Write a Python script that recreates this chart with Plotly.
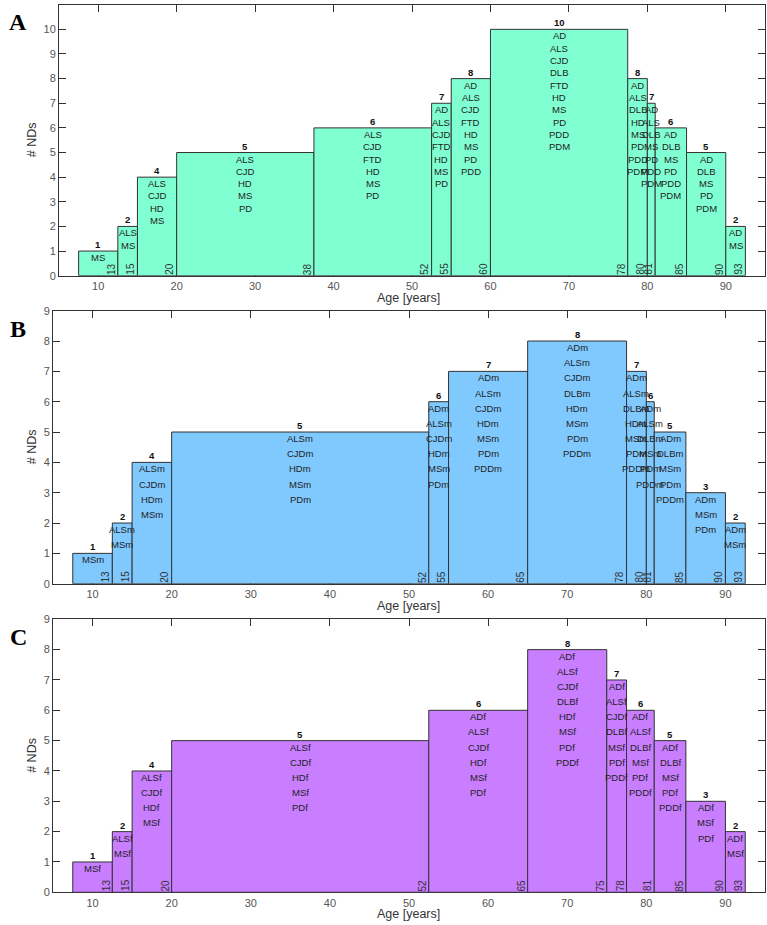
import plotly.graph_objects as go

W, H = 767, 925

age_ticks = [10, 20, 30, 40, 50, 60, 70, 80, 90]

# ---------------- Panel A (all) ----------------
A_edges = [7.5, 12.5, 15, 20, 37.5, 52.5, 55, 60, 77.5, 80, 81, 85, 90, 92.5]
A_edge_labels = ["13", "15", "20", "38", "52", "55", "60", "78", "80", "81", "85", "90", "93"]
A_counts = [1, 2, 4, 5, 6, 7, 8, 10, 8, 7, 6, 5, 2]
A_diseases = [
    ["MS"],
    ["ALS", "MS"],
    ["ALS", "CJD", "HD", "MS"],
    ["ALS", "CJD", "HD", "MS", "PD"],
    ["ALS", "CJD", "FTD", "HD", "MS", "PD"],
    ["AD", "ALS", "CJD", "FTD", "HD", "MS", "PD"],
    ["AD", "ALS", "CJD", "FTD", "HD", "MS", "PD", "PDD"],
    ["AD", "ALS", "CJD", "DLB", "FTD", "HD", "MS", "PD", "PDD", "PDM"],
    ["AD", "ALS", "DLB", "HD", "MS", "PD", "PDD", "PDM"],
    ["AD", "ALS", "DLB", "MS", "PD", "PDD", "PDM"],
    ["AD", "DLB", "MS", "PD", "PDD", "PDM"],
    ["AD", "DLB", "MS", "PD", "PDM"],
    ["AD", "MS"],
]

# ---------------- Panel B (male) ----------------
B_edges = [7.5, 12.5, 15, 20, 52.5, 55, 65, 77.5, 80, 81, 85, 90, 92.5]
B_edge_labels = ["13", "15", "20", "52", "55", "65", "78", "80", "81", "85", "90", "93"]
B_counts = [1, 2, 4, 5, 6, 7, 8, 7, 6, 5, 3, 2]
B_diseases = [
    ["MSm"],
    ["ALSm", "MSm"],
    ["ALSm", "CJDm", "HDm", "MSm"],
    ["ALSm", "CJDm", "HDm", "MSm", "PDm"],
    ["ADm", "ALSm", "CJDm", "HDm", "MSm", "PDm"],
    ["ADm", "ALSm", "CJDm", "HDm", "MSm", "PDm", "PDDm"],
    ["ADm", "ALSm", "CJDm", "DLBm", "HDm", "MSm", "PDm", "PDDm"],
    ["ADm", "ALSm", "DLBm", "HDm", "MSm", "PDm", "PDDm"],
    ["ADm", "ALSm", "DLBm", "MSm", "PDm", "PDDm"],
    ["ADm", "DLBm", "MSm", "PDm", "PDDm"],
    ["ADm", "MSm", "PDm"],
    ["ADm", "MSm"],
]

# ---------------- Panel C (female) ----------------
C_edges = [7.5, 12.5, 15, 20, 52.5, 65, 75, 77.5, 81, 85, 90, 92.5]
C_edge_labels = ["13", "15", "20", "52", "65", "75", "78", "81", "85", "90", "93"]
C_counts = [1, 2, 4, 5, 6, 8, 7, 6, 5, 3, 2]
C_diseases = [
    ["MSf"],
    ["ALSf", "MSf"],
    ["ALSf", "CJDf", "HDf", "MSf"],
    ["ALSf", "CJDf", "HDf", "MSf", "PDf"],
    ["ADf", "ALSf", "CJDf", "HDf", "MSf", "PDf"],
    ["ADf", "ALSf", "CJDf", "DLBf", "HDf", "MSf", "PDf", "PDDf"],
    ["ADf", "ALSf", "CJDf", "DLBf", "MSf", "PDf", "PDDf"],
    ["ADf", "ALSf", "DLBf", "MSf", "PDf", "PDDf"],
    ["ADf", "DLBf", "MSf", "PDf", "PDDf"],
    ["ADf", "MSf", "PDf"],
    ["ADf", "MSf"],
]

panels = [
    dict(letter="A", edges=A_edges, edge_labels=A_edge_labels, counts=A_counts,
         diseases=A_diseases, color="#80ffd2", ymax=11,
         xpx=(59, 765), ypx=(4.7, 275.7), letter_y=22),
    dict(letter="B", edges=B_edges, edge_labels=B_edge_labels, counts=B_counts,
         diseases=B_diseases, color="#80c9ff", ymax=9,
         xpx=(53, 765), ypx=(310.7, 583.7), letter_y=329),
    dict(letter="C", edges=C_edges, edge_labels=C_edge_labels, counts=C_counts,
         diseases=C_diseases, color="#c97dff", ymax=9,
         xpx=(53, 765), ypx=(619.3, 892.3), letter_y=637),
]

FONT = "Arial, Liberation Sans, Helvetica, sans-serif"
fig = go.Figure()
annotations = []
layout_axes = {}

for i, p in enumerate(panels):
    n = i + 1
    xa = "x" if n == 1 else f"x{n}"
    ya = "y" if n == 1 else f"y{n}"
    edges = p["edges"]
    lefts, rights = edges[:-1], edges[1:]
    centers = [(l + r) / 2 for l, r in zip(lefts, rights)]
    widths = [r - l for l, r in zip(lefts, rights)]
    fig.add_trace(go.Bar(
        x=centers, y=p["counts"], width=widths, base=0,
        marker=dict(color=p["color"], line=dict(color="#333333", width=1)),
        xaxis=xa, yaxis=ya, showlegend=False, hoverinfo="skip",
    ))

    x0, x1 = p["xpx"]
    y0, y1 = p["ypx"]
    common = dict(ticks="inside", ticklen=7, tickcolor="#333333", tickwidth=1,
                  showline=True, linecolor="#333333", linewidth=1, mirror="ticks",
                  showgrid=False, zeroline=False, layer="below traces", automargin=False,
                  tickfont=dict(family=FONT, size=11, color="#555555"))
    layout_axes["xaxis" if n == 1 else f"xaxis{n}"] = dict(
        domain=[x0 / W, x1 / W], anchor=ya, range=[5, 95], tickvals=age_ticks, **common)
    layout_axes["yaxis" if n == 1 else f"yaxis{n}"] = dict(
        domain=[1 - y1 / H, 1 - y0 / H], anchor=xa, range=[0, p["ymax"]],
        tickvals=list(range(0, p["ymax"] + 1)), **common)

    # labels in bars
    for c, cnt, names in zip(centers, p["counts"], p["diseases"]):
        annotations.append(dict(x=c, y=cnt, xref=xa, yref=ya, text=f"<b>{cnt}</b>",
                                showarrow=False, xanchor="center", yanchor="bottom",
                                borderpad=0, font=dict(family=FONT, size=9.5, color="#111111")))
        for k, name in enumerate(names):
            annotations.append(dict(x=c, y=cnt - 0.5 * k, xref=xa, yref=ya, text=name,
                                    showarrow=False, xanchor="center", yanchor="top",
                                    borderpad=0, font=dict(family=FONT, size=9.5, color="#222222")))
    # right-edge age labels
    for r, lab in zip(rights, p["edge_labels"]):
        annotations.append(dict(x=r, y=0, xref=xa, yref=ya, text=lab, textangle=-90,
                                showarrow=False, xanchor="right", yanchor="bottom",
                                borderpad=0, font=dict(family=FONT, size=10, color="#333333")))

    # axis titles
    annotations.append(dict(x=408 / W, y=1 - (y1 + 22) / H, xref="paper", yref="paper",
                            text="Age [years]", showarrow=False, xanchor="center", yanchor="middle",
                            font=dict(family=FONT, size=12.5, color="#333333")))
    annotations.append(dict(x=32 / W, y=1 - ((y0 + y1) / 2) / H, xref="paper", yref="paper",
                            text="# NDs", textangle=-90, showarrow=False, xanchor="center",
                            yanchor="middle", font=dict(family=FONT, size=12.5, color="#333333")))
    # panel letter
    annotations.append(dict(x=18 / W, y=1 - p["letter_y"] / H, xref="paper", yref="paper",
                            text=f"<b>{p['letter']}</b>", showarrow=False, xanchor="center",
                            yanchor="middle",
                            font=dict(family="Liberation Serif, Times New Roman, serif",
                                      size=24, color="#000000")))

fig.update_layout(
    template="none",
    width=W, height=H, margin=dict(l=0, r=0, t=0, b=0, autoexpand=False),
    paper_bgcolor="white", plot_bgcolor="white",
    annotations=annotations, bargap=0, hovermode=False, **layout_axes,
)

fig.write_html("out.html", config={"displayModeBar": False, "staticPlot": True},
               post_script="document.body.style.margin='0';document.body.style.overflow='hidden';")
